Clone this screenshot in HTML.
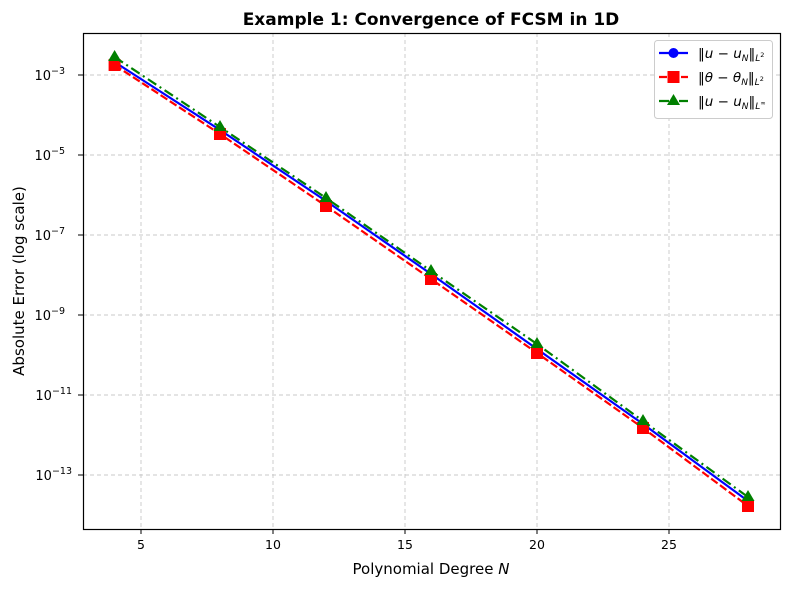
<!DOCTYPE html>
<html><head><style>body{margin:0;background:#fff}svg{display:block}</style></head><body>
<svg width="790" height="590" xmlns="http://www.w3.org/2000/svg" font-family="DejaVu Sans, sans-serif">
<text x="431" y="25" text-anchor="middle" font-size="17" font-weight="bold">Example 1: Convergence of FCSM in 1D</text>
<g stroke="#c8c8c8" stroke-dasharray="4,3" stroke-width="0.9">
<line x1="141" y1="33" x2="141" y2="529"/><line x1="273" y1="33" x2="273" y2="529"/><line x1="405" y1="33" x2="405" y2="529"/><line x1="537" y1="33" x2="537" y2="529"/><line x1="669" y1="33" x2="669" y2="529"/>
<line x1="83" y1="75" x2="780" y2="75"/><line x1="83" y1="155" x2="780" y2="155"/><line x1="83" y1="235" x2="780" y2="235"/><line x1="83" y1="315" x2="780" y2="315"/><line x1="83" y1="395" x2="780" y2="395"/><line x1="83" y1="475" x2="780" y2="475"/>
</g>
<rect x="83.5" y="33.5" width="697" height="496" fill="none" stroke="#000" stroke-width="1.2"/>
<g stroke="#000"><line x1="141" y1="529" x2="141" y2="534"/><line x1="273" y1="529" x2="273" y2="534"/><line x1="405" y1="529" x2="405" y2="534"/><line x1="537" y1="529" x2="537" y2="534"/><line x1="669" y1="529" x2="669" y2="534"/>
<line x1="78" y1="75" x2="83" y2="75"/><line x1="78" y1="155" x2="83" y2="155"/><line x1="78" y1="235" x2="83" y2="235"/><line x1="78" y1="315" x2="83" y2="315"/><line x1="78" y1="395" x2="83" y2="395"/><line x1="78" y1="475" x2="83" y2="475"/></g>
<g font-size="12.5" text-anchor="middle"><text x="141" y="549">5</text><text x="273" y="549">10</text><text x="405" y="549">15</text><text x="537" y="549">20</text><text x="669" y="549">25</text></g>
<g font-size="13" text-anchor="end">
<text x="65" y="80">10<tspan font-size="9.5" dy="-6">−3</tspan></text>
<text x="65" y="160">10<tspan font-size="9.5" dy="-6">−5</tspan></text>
<text x="65" y="240">10<tspan font-size="9.5" dy="-6">−7</tspan></text>
<text x="65" y="320">10<tspan font-size="9.5" dy="-6">−9</tspan></text>
<text x="72" y="400">10<tspan font-size="9.5" dy="-6">−11</tspan></text>
<text x="72" y="480">10<tspan font-size="9.5" dy="-6">−13</tspan></text></g>
<text x="431" y="574" text-anchor="middle" font-size="15">Polynomial Degree <tspan font-style="italic">N</tspan></text>
<text transform="translate(24,281) rotate(-90)" text-anchor="middle" font-size="15">Absolute Error (log scale)</text>
<polyline fill="none" stroke="#0000ff" stroke-width="2.2" points="114.6,62 220,130 326,201 431,274 537,349 643,424 748,501"/>
<g fill="#0000ff"><circle cx="114.6" cy="62" r="5"/><circle cx="220" cy="130" r="5"/><circle cx="326" cy="201" r="5"/><circle cx="431" cy="274" r="5"/><circle cx="537" cy="349" r="5"/><circle cx="643" cy="424" r="5"/><circle cx="748" cy="501" r="5"/></g>
<polyline fill="none" stroke="#ff0000" stroke-width="2.2" stroke-dasharray="8,3" points="114.6,65 220,134 326,206 431,279 537,353 643,428 748,506"/>
<g fill="#ff0000"><rect x="108.6" y="59" width="12" height="12"/><rect x="214" y="128" width="12" height="12"/><rect x="320" y="200" width="12" height="12"/><rect x="425" y="273" width="12" height="12"/><rect x="531" y="347" width="12" height="12"/><rect x="637" y="422" width="12" height="12"/><rect x="742" y="500" width="12" height="12"/></g>
<polyline fill="none" stroke="#008000" stroke-width="2.2" stroke-dasharray="10,4,2,4" points="114.6,57 220,127 326,198 431,271 537,344 643,421 748,497"/>
<g fill="#008000"><path d="M114.6,50 l6.5,11 h-13z"/><path d="M220,120 l6.5,11 h-13z"/><path d="M326,191 l6.5,11 h-13z"/><path d="M431,264 l6.5,11 h-13z"/><path d="M537,337 l6.5,11 h-13z"/><path d="M643,414 l6.5,11 h-13z"/><path d="M748,490 l6.5,11 h-13z"/></g>
<rect x="654.5" y="40.5" width="118" height="78" rx="3" fill="#fff" stroke="#ccc"/>
<line x1="659" y1="53" x2="688" y2="53" stroke="#0000ff" stroke-width="2.2"/><circle cx="673.5" cy="53" r="5" fill="#0000ff"/>
<line x1="659" y1="77" x2="688" y2="77" stroke="#ff0000" stroke-width="2.2" stroke-dasharray="8,3"/><rect x="667.5" y="71" width="12" height="12" fill="#ff0000"/>
<line x1="659" y1="101" x2="688" y2="101" stroke="#008000" stroke-width="2.2" stroke-dasharray="10,4,2,4"/><path d="M673.5,94 l6.5,11 h-13z" fill="#008000"/>
<g font-size="13.5"><text x="698" y="58">‖<tspan font-style="italic">u</tspan> − <tspan font-style="italic">u</tspan><tspan font-size="9" font-style="italic" dy="3">N</tspan><tspan dy="-3">‖</tspan><tspan font-size="9" font-style="italic" dy="3">L</tspan><tspan font-size="6.5" dy="-4">2</tspan></text>
<text x="698" y="82">‖<tspan font-style="italic">θ</tspan> − <tspan font-style="italic">θ</tspan><tspan font-size="9" font-style="italic" dy="3">N</tspan><tspan dy="-3">‖</tspan><tspan font-size="9" font-style="italic" dy="3">L</tspan><tspan font-size="6.5" dy="-4">2</tspan></text>
<text x="698" y="106">‖<tspan font-style="italic">u</tspan> − <tspan font-style="italic">u</tspan><tspan font-size="9" font-style="italic" dy="3">N</tspan><tspan dy="-3">‖</tspan><tspan font-size="9" font-style="italic" dy="3">L</tspan><tspan font-size="6.5" dy="-4">∞</tspan></text></g>
</svg>
</body></html>
